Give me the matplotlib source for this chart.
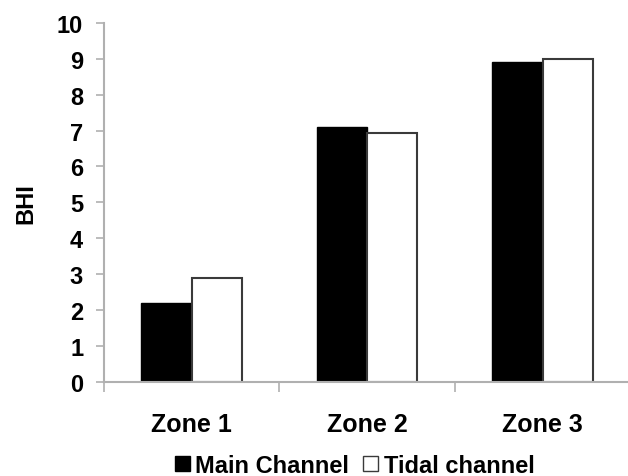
import numpy as np
import matplotlib
matplotlib.use("Agg")
import matplotlib.pyplot as plt
from matplotlib.patches import Patch

plt.rcParams['font.family'] = ['Liberation Sans', 'DejaVu Sans']
plt.rcParams['font.weight'] = 'bold'
plt.rcParams['axes.labelweight'] = 'bold'

# data
zones = ["Zone 1", "Zone 2", "Zone 3"]
main_channel = [2.2, 7.1, 8.92]
tidal_channel = [2.9, 6.93, 9.0]
series_names = ["Main Channel", "Tidal channel"]

fig = plt.figure(figsize=(6.28, 4.77), dpi=100)
ax = fig.add_axes([0.1656, 0.1977, 0.838, 0.752])

x = np.arange(len(zones))
w = 0.287
edge = '#3a3a3a'
ax.bar(x - w/2, main_channel, w, color='black', edgecolor='black', lw=1.0)
ax.bar(x + w/2, tidal_channel, w, color='white', edgecolor=edge, lw=1.5)

ax.set_xlim(-0.5, 2.5)
ax.set_ylim(0, 10)
ax.set_yticks(range(0, 11))
ax.tick_params(axis='y', labelsize=17, length=6, width=1.2, color='#b0b0b0', pad=9)

# category labels centred, ticks on the boundaries
ax.set_xticks([-0.5, 0.5, 1.5, 2.5])
ax.set_xticklabels([])
ax.set_xticks(x, minor=True)
ax.set_xticklabels(zones, minor=True, fontsize=18)
ax.tick_params(axis='x', which='major', length=7, width=1.2, color='#b0b0b0')
ax.tick_params(axis='x', which='minor', length=0, pad=22)

for s in ['top', 'right']:
    ax.spines[s].set_visible(False)
for s in ['left', 'bottom']:
    ax.spines[s].set_color('#b0b0b0')
    ax.spines[s].set_linewidth(1.5)

ax.set_ylabel('BHI', fontsize=17, labelpad=14)

handles = [Patch(facecolor='black', edgecolor='black'),
           Patch(facecolor='white', edgecolor=edge, lw=1.0)]
fig.legend(handles, series_names, loc='center', bbox_to_anchor=(0.565, 0.022),
           ncol=2, frameon=False, fontsize=17, handlelength=0.6, handleheight=0.6,
           handletextpad=0.25, columnspacing=0.6, borderpad=0)

fig.savefig('out.png', dpi=100)
